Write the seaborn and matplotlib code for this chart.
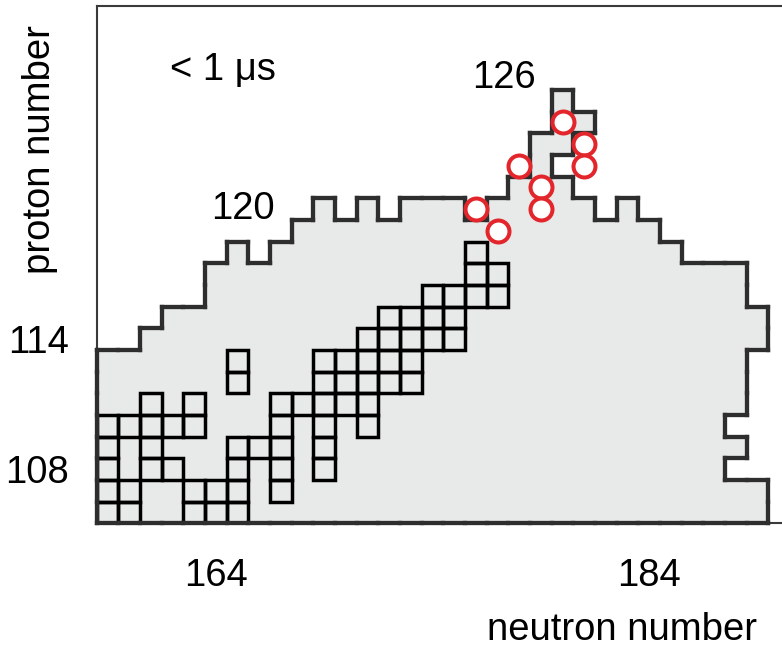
import numpy as np
import matplotlib
matplotlib.use("Agg")
import matplotlib.pyplot as plt
from matplotlib.collections import LineCollection, PolyCollection
import seaborn as sns

# ---- data -----------------------------------------------------------------
# Predicted region: highest proton number per neutron column (N = 159..188)
region_N = list(range(159, 189))
region_top = [113, 113, 114, 115, 115, 117, 118, 117, 118, 119,
              120, 119, 120, 119, 120, 120, 120, 119, 120, 121,
              123, 125, 124, 119, 120, 119, 118, 117, 117, 117]
# cells removed from / added to the column profile (N, Z)
region_gaps = [(180, 122), (181, 121), (181, 122), (181, 123),
               (188, 110), (188, 108)]
region_extra = [(189, 106), (189, 107), (189, 114), (189, 115)]

# Known nuclides (boxed cells): neutron number -> proton numbers
known_cells = {
    159: [106, 107, 108, 109, 110],
    160: [106, 107, 110],
    161: [108, 109, 110, 111],
    162: [108, 110],
    163: [106, 107, 110, 111],
    164: [106, 107],
    165: [106, 107, 108, 109, 112, 113],
    166: [109],
    167: [107, 108, 109, 110, 111],
    168: [111],
    169: [108, 109, 110, 111, 112, 113],
    170: [111, 112, 113],
    171: [110, 111, 112, 113, 114],
    172: [112, 113, 114, 115],
    173: [112, 113, 114, 115],
    174: [114, 115, 116],
    175: [114, 115, 116],
    176: [116, 117, 118],
    177: [116, 117],
}

# Short-lived (< 1 us) isotopes
iso_N = [176, 177, 178, 179, 179, 180, 181, 181]
iso_Z = [120, 119, 122, 121, 120, 124, 123, 122]

x_ticks = [164, 184]
y_ticks = [108, 114]
shell_labels = ["120", "126"]
shell_N = [165.25, 177.3]
shell_Z = [119.55, 125.6]

# ---- grids ----------------------------------------------------------------
N_min, N_max = 159, 189
Z_min, Z_max = 106, 126
N_vals = np.arange(N_min, N_max + 1)
Z_vals = np.arange(Z_min, Z_max + 1)
N_edges = np.arange(N_min - 0.5, N_max + 1.0)
Z_edges = np.arange(Z_min - 0.5, Z_max + 1.0)

region = np.zeros((len(Z_vals), len(N_vals)), dtype=bool)
for n, top in zip(region_N, region_top):
    region[: top - Z_min + 1, n - N_min] = True
for n, z in region_gaps:
    region[z - Z_min, n - N_min] = False
for n, z in region_extra:
    region[z - Z_min, n - N_min] = True


def cell_square(n, z):
    return [(n - 0.5, z - 0.5), (n + 0.5, z - 0.5),
            (n + 0.5, z + 0.5), (n - 0.5, z + 0.5)]


region_polys = [cell_square(N_vals[j], Z_vals[i])
                for i in range(region.shape[0])
                for j in range(region.shape[1]) if region[i, j]]
known_polys = [cell_square(n, z) for n, zs in known_cells.items() for z in zs]

# boundary segments of the predicted region
segments = []
nz, nn = region.shape
for i in range(nz):
    for j in range(nn):
        if not region[i, j]:
            continue
        x0, x1 = N_edges[j], N_edges[j + 1]
        y0, y1 = Z_edges[i], Z_edges[i + 1]
        if i == 0 or not region[i - 1, j]:
            segments.append([(x0, y0), (x1, y0)])
        if i == nz - 1 or not region[i + 1, j]:
            segments.append([(x0, y1), (x1, y1)])
        if j == 0 or not region[i, j - 1]:
            segments.append([(x0, y0), (x0, y1)])
        if j == nn - 1 or not region[i, j + 1]:
            segments.append([(x1, y0), (x1, y1)])

# ---- figure ---------------------------------------------------------------
sns.set_theme(style="white")
plt.rcParams["font.family"] = ["Liberation Sans", "DejaVu Sans"]
plt.rcParams["text.color"] = "black"

fill = "#e8e9e9"
fig = plt.figure(figsize=(7.82, 6.5), dpi=100)
ax = fig.add_axes([0.1237, 0.1949, 0.8763, 0.7958])

ax.add_collection(PolyCollection(region_polys, facecolors=fill,
                                 edgecolors=fill, linewidths=0.6, zorder=1))
ax.add_collection(PolyCollection(known_polys, facecolors="none",
                                 edgecolors="black", linewidths=2.5,
                                 joinstyle="miter", zorder=2))
ax.add_collection(LineCollection(segments, colors="#2e2e2e", linewidths=3.1,
                                 capstyle="projecting", zorder=3, clip_on=False))

sns.scatterplot(x=iso_N, y=iso_Z, ax=ax, s=250, marker="o", color="white",
                edgecolor="#e3262b", linewidth=2.9, zorder=5, legend=False,
                clip_on=False)

ax.set_xlim(158.5, 190.13)
ax.set_ylim(105.5, 129.37)
ax.set_xticks(x_ticks)
ax.set_yticks(y_ticks)
ax.set_xticklabels([str(v) for v in x_ticks])
ax.set_yticklabels([str(v) for v in y_ticks])
ax.tick_params(axis="both", length=0, labelsize=27.5, labelcolor="black")
ax.tick_params(axis="x", pad=25)
ax.tick_params(axis="y", pad=20)
ax.grid(False)

for side in ("left", "top", "bottom"):
    ax.spines[side].set_color("#3a3a3a")
    ax.spines[side].set_linewidth(1.5)
ax.spines["right"].set_visible(False)

for lab, n, z in zip(shell_labels, shell_N, shell_Z):
    ax.text(n, z, lab, ha="center", va="baseline", fontsize=27.5,
            color="black", zorder=6)
ax.text(164.33, 125.96, "< 1 \u03bcs", ha="center", va="baseline",
        fontsize=27.5, color="black", zorder=6)

fig.text(40 / 782, 1 - 150 / 650, "proton number", rotation=90,
         ha="center", va="center", fontsize=27.5, color="black")
fig.text(622 / 782, 10 / 650, "neutron number", ha="center", va="baseline",
         fontsize=27.5, color="black")

fig.savefig("out.png", dpi=100)
